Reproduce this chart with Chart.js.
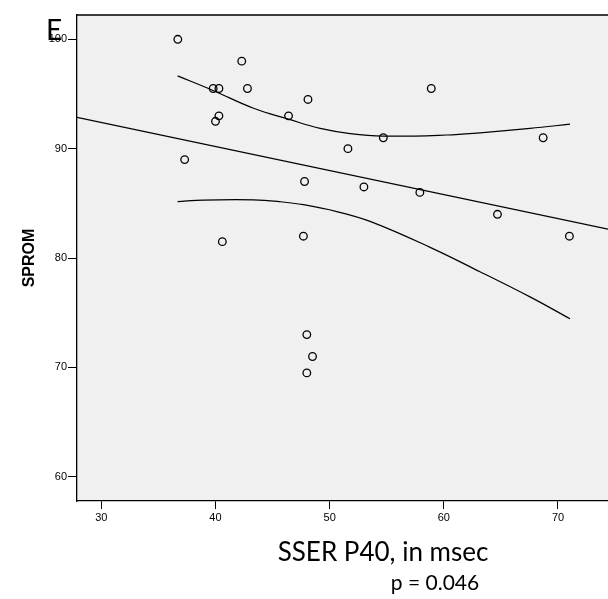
<!DOCTYPE html>
<html>
<head>
<meta charset="utf-8">
<script src="https://cdn.jsdelivr.net/npm/chart.js@4.4.0/dist/chart.umd.min.js"></script>
<style>
  html, body { margin: 0; padding: 0; background: #fff; overflow: hidden; }
  canvas { display: block; }
</style>
</head>
<body>
<canvas id="chart" width="608" height="599"></canvas>
<script>
// observed values (SSER P40 latency vs SPROM)
const sserP40 = [36.7, 42.3, 39.8, 40.3, 42.8, 58.9, 48.1, 46.4, 40.3, 40.0, 54.7, 68.7,
                 51.6, 37.3, 47.8, 53.0, 57.9, 64.7, 71.0, 47.7, 40.6, 48.0, 48.5, 48.0];
const sprom   = [100, 98, 95.5, 95.5, 95.5, 95.5, 94.5, 93, 93, 92.5, 91, 91,
                 90, 89, 87, 86.5, 86, 84, 82, 82, 81.5, 73, 71, 69.5];

// fitted line, read at the plot edges
const fitX = [27.87, 74.38];
const fitY = [92.86, 82.64];

// mean confidence band
const upperX = [36.68, 39.83, 43.33, 46.39, 49.17, 51.79, 54.71, 60.26, 63.17, 67.55, 71.05];
const upperY = [96.65, 95.30, 93.70, 92.70, 91.85, 91.38, 91.15, 91.25, 91.45, 91.85, 92.24];
const lowerX = [36.68, 38.95, 43.33, 45.67, 47.71, 50.63, 53.54, 58.80, 63.17, 67.55, 71.05];
const lowerY = [85.16, 85.30, 85.32, 85.15, 84.88, 84.25, 83.35, 80.98, 78.75, 76.45, 74.45];

const xTicks = [30, 40, 50, 60, 70];
const yTicks = [60, 70, 80, 90, 100];

const pair = (xs, ys) => xs.map((x, i) => ({ x: x, y: ys[i] }));

const tickFont = { family: "'Liberation Sans', Arial, sans-serif", size: 11 };

const plotBox = {
    id: 'plotBox',
    beforeDraw(chart) {
        const a = chart.chartArea;
        const c = chart.ctx;
        c.save();
        c.fillStyle = '#f0f0f0';
        c.fillRect(a.left, a.top, a.right - a.left, a.bottom - a.top);
        c.restore();
    },
    afterDraw(chart) {
        const a = chart.chartArea;
        const c = chart.ctx;
        c.save();
        c.strokeStyle = '#000';
        c.lineWidth = 1.3;
        c.beginPath();
        c.moveTo(a.left, a.top);
        c.lineTo(a.right, a.top);
        c.stroke();

        c.fillStyle = '#000';
        c.textBaseline = 'alphabetic';
        c.textAlign = 'left';
        c.font = "28px Lato, 'Open Sans', sans-serif";
        c.fillText('E', 46, 40);

        c.textAlign = 'center';
        c.font = "26px Lato, 'Open Sans', sans-serif";
        c.fillText('SSER P40, in msec', 383, 561);
        c.font = "21px Lato, 'Open Sans', sans-serif";
        c.fillText('p = 0.046', 435, 590);
        c.restore();
    }
};

const lineStyle = {
    showLine: true,
    pointRadius: 0,
    borderColor: '#000',
    borderWidth: 1.2,
    fill: false
};

new Chart(document.getElementById('chart'), {
    type: 'scatter',
    data: {
        datasets: [{
            label: 'SPROM',
            data: pair(sserP40, sprom),
            pointStyle: 'circle',
            pointRadius: 3.8,
            borderColor: '#000',
            backgroundColor: 'rgba(0,0,0,0)',
            borderWidth: 1.3
        }, Object.assign({
            label: 'Fit',
            data: pair(fitX, fitY)
        }, lineStyle), Object.assign({
            label: 'Upper',
            data: pair(upperX, upperY),
            tension: 0.4
        }, lineStyle), Object.assign({
            label: 'Lower',
            data: pair(lowerX, lowerY),
            tension: 0.4
        }, lineStyle)]
    },
    options: {
        responsive: false,
        animation: false,
        layout: { autoPadding: false, padding: { top: 15, left: 0, right: 0, bottom: 0 } },
        plugins: {
            legend: { display: false },
            tooltip: { enabled: false }
        },
        scales: {
            x: {
                type: 'linear',
                min: 27.87,
                max: 74.38,
                afterBuildTicks: function(scale) {
                    scale.ticks = xTicks.map(v => ({ value: v }));
                },
                afterFit: function(scale) {
                    scale.height = 98;
                    scale.paddingLeft = 0;
                    scale.paddingRight = 0;
                },
                grid: { drawOnChartArea: false, drawTicks: true, tickLength: 8, color: '#000', lineWidth: 1 },
                border: { display: true, color: '#000', width: 1.3 },
                ticks: { font: tickFont, color: '#000', padding: 2, maxRotation: 0 }
            },
            y: {
                type: 'linear',
                min: 57.79,
                max: 102.22,
                afterBuildTicks: function(scale) {
                    scale.ticks = yTicks.map(v => ({ value: v }));
                },
                afterFit: function(scale) {
                    scale.width = 77;
                    scale.paddingTop = 0;
                    scale.paddingBottom = 0;
                },
                grid: { drawOnChartArea: false, drawTicks: true, tickLength: 9, color: '#000', lineWidth: 1 },
                border: { display: true, color: '#000', width: 1.3 },
                ticks: { font: tickFont, color: '#000', padding: 1 },
                title: {
                    display: true,
                    text: 'SPROM',
                    color: '#000',
                    font: { family: "'Liberation Sans', Arial, sans-serif", size: 16, weight: 'bold' },
                    padding: { top: 20, bottom: 0 }
                }
            }
        }
    },
    plugins: [plotBox]
});
</script>
</body>
</html>
